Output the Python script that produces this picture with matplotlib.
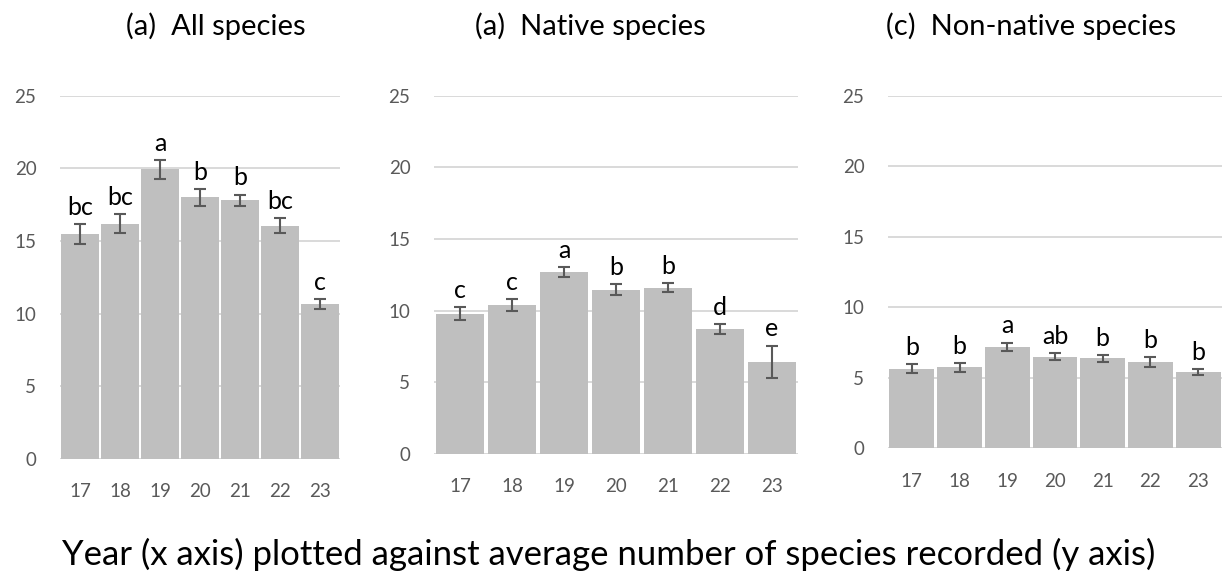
import matplotlib
matplotlib.use("Agg")
import matplotlib.pyplot as plt
import numpy as np

plt.rcParams['font.family'] = ['Lato', 'DejaVu Sans']

years = ["17", "18", "19", "20", "21", "22", "23"]

all_means = [15.5, 16.2, 19.95, 18.0, 17.8, 16.05, 10.65]
all_err = [0.70, 0.67, 0.65, 0.60, 0.40, 0.53, 0.35]
all_letters = ["bc", "bc", "a", "b", "b", "bc", "c"]

native_means = [9.8, 10.4, 12.7, 11.47, 11.6, 8.7, 6.42]
native_err = [0.44, 0.40, 0.38, 0.37, 0.30, 0.36, 1.15]
native_letters = ["c", "c", "a", "b", "b", "d", "e"]

nonnative_means = [5.65, 5.76, 7.2, 6.5, 6.38, 6.1, 5.4]
nonnative_err = [0.34, 0.32, 0.30, 0.27, 0.24, 0.35, 0.23]
nonnative_letters = ["b", "b", "a", "ab", "b", "b", "b"]

titles = ["(a)  All species", "(a)  Native species", "(c)  Non-native species"]
caption = "Year (x axis) plotted against average number of species recorded (y axis)"

W, H = 1222, 572
fig = plt.figure(figsize=(W / 100, H / 100), dpi=100)

# axes boxes in pixels: left, right, top, bottom
boxes = [(60, 340, 95.7, 459), (434, 798, 95.7, 454), (888, 1222, 95.7, 448.3)]
title_x = [216, 590, 1031]

data = [(all_means, all_err, all_letters),
        (native_means, native_err, native_letters),
        (nonnative_means, nonnative_err, nonnative_letters)]

grid_c = "#d9d9d9"
bar_c = "#bfbfbf"
err_c = "#595959"
tick_c = "#595959"

for i, ((l, r, t, b), (m, e, let)) in enumerate(zip(boxes, data)):
    ax = fig.add_axes([l / W, 1 - b / H, (r - l) / W, (b - t) / H])
    x = np.arange(len(years))
    ax.bar(x, m, width=0.94, color=bar_c, zorder=2)
    ax.errorbar(x, m, yerr=e, fmt='none', ecolor=err_c, elinewidth=1.5,
                capsize=4.3, capthick=1.5, zorder=3)
    for xi, mi, ei, li in zip(x, m, e, let):
        ax.annotate(li, (xi, mi + ei), xytext=(0, 6.5), textcoords='offset points',
                    ha='center', va='baseline', fontsize=18, color='black')
    ax.set_xlim(-0.5, len(years) - 0.5)
    ax.set_ylim(0, 25)
    ax.set_yticks([0, 5, 10, 15, 20, 25])
    ax.set_xticks(x)
    ax.set_xticklabels(years)
    ax.yaxis.grid(True, color=grid_c, linewidth=1.4, zorder=0)
    ax.set_axisbelow(True)
    for s in ax.spines.values():
        s.set_visible(False)
    ax.axhline(0, color=grid_c, linewidth=1.4, zorder=1)
    ax.tick_params(axis='both', length=0, labelsize=13.5, labelcolor=tick_c)
    ax.tick_params(axis='y', pad=17)
    ax.tick_params(axis='x', pad=17.5)
    ax.set_facecolor('none')
    fig.text(title_x[i] / W, 1 - 35 / H, titles[i], ha='center', va='baseline',
             fontsize=21, color='black')

fig.text(608.5 / W, 1 - 565 / H, caption, ha='center', va='baseline',
         fontsize=25, color='black')

fig.savefig("out.png", dpi=100)
